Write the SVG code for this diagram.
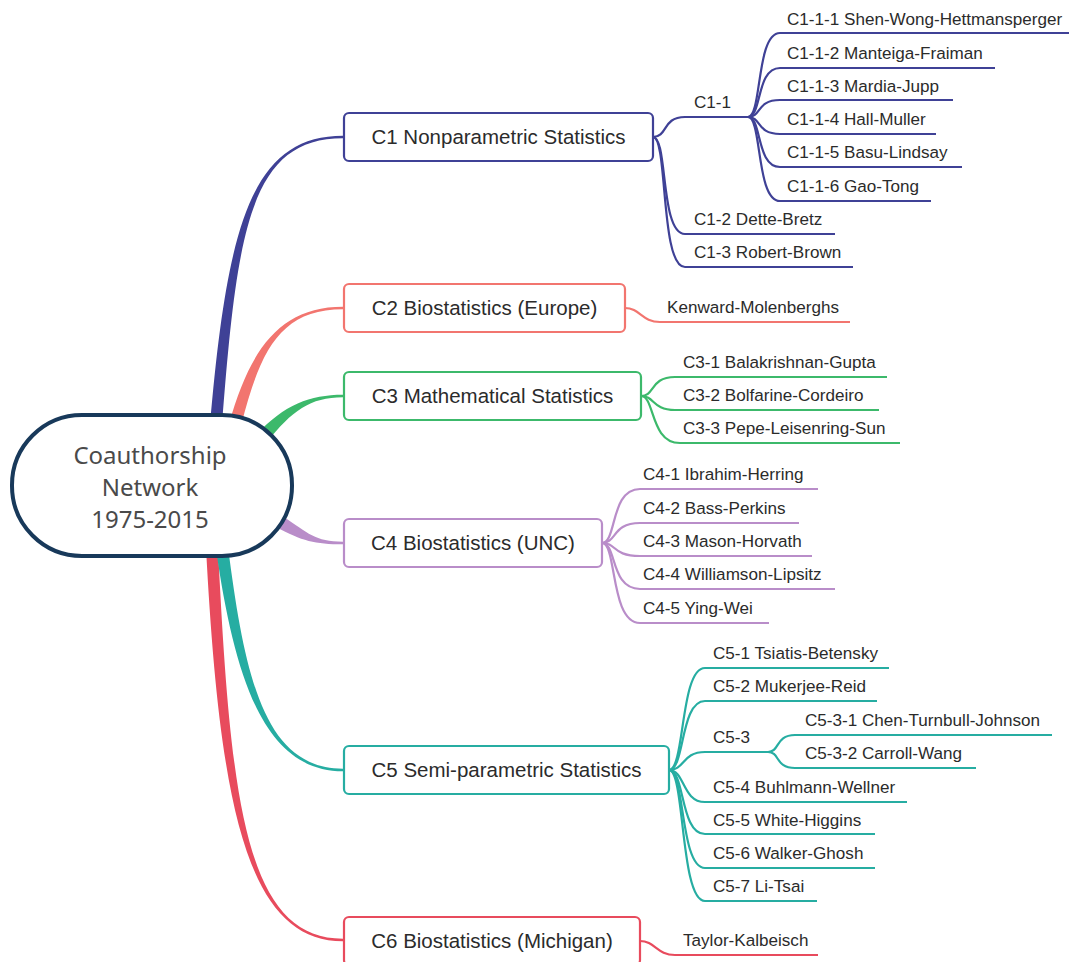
<svg xmlns="http://www.w3.org/2000/svg" width="1069" height="962" viewBox="0 0 1069 962">
<style>
.t{font-family:"Liberation Sans",Arial,sans-serif;fill:#2b2b2b}
.main{font-size:20.5px;text-anchor:middle}
.leaf{font-size:17.1px}
.box{fill:#fff;stroke-width:2.2}
.ln{fill:none;stroke-width:2.2}
.c1{stroke:#3f4196}.c2{stroke:#f2756f}.c3{stroke:#3cb96b}.c4{stroke:#b98dc9}.c5{stroke:#26ada2}.c6{stroke:#e84b5d}
</style>
<rect width="1069" height="962" fill="#fff"/>
<g id="connectors">
  <path fill="#3f4196" d="M 222 425 C 237 230, 250 138.3, 343 138.3 L 343 135.7 C 250 135.7, 227 229.6, 210 425 Z"/>
  <path fill="#f2756f" d="M 241 426 C 260 351, 280 309.3, 343 309.3 L 343 306.7 C 280 306.7, 250 349, 229 424 Z"/>
  <path fill="#3cb96b" d="M 267 442 C 292 411, 310 397.3, 343 397.3 L 343 394.7 C 310 394.7, 284 405, 257 434 Z"/>
  <path fill="#b98dc9" d="M 276 527 C 302 541, 315 544.3, 343 544.3 L 343 541.7 C 315 541.7, 308 533, 284 517 Z"/>
  <path fill="#e84b5d" d="M 218 548 C 230.5 800, 245 938.7, 343 938.7 L 343 941.3 C 245 941.3, 219.5 800, 206 548 Z"/>
  <path fill="#26ada2" d="M 228 547 C 245 679, 265 768.7, 343 768.7 L 343 771.3 C 265 771.3, 235 681, 216 549 Z"/>
  <!-- C1 -->
  <path class="ln c1" d="M 653 137 C 668 137, 662 117, 685 117 H 748"/>
  <path class="ln c1" d="M 653 137 C 668 137, 660 234, 685 234 H 835"/>
  <path class="ln c1" d="M 653 137 C 668 137, 660 267, 685 267 H 853"/>
  <path class="ln c1" d="M 748 117 C 762 117, 756 33, 780 33 H 1069"/>
  <path class="ln c1" d="M 748 117 C 762 117, 756 68, 780 68 H 995"/>
  <path class="ln c1" d="M 748 117 C 762 117, 756 100, 780 100 H 953"/>
  <path class="ln c1" d="M 748 117 C 762 117, 756 134, 780 134 H 936"/>
  <path class="ln c1" d="M 748 117 C 762 117, 756 167, 780 167 H 962"/>
  <path class="ln c1" d="M 748 117 C 762 117, 756 201, 780 201 H 931"/>
  <!-- C2 -->
  <path class="ln c2" d="M 625 308 C 640 308, 642 322, 660 322 H 850"/>
  <!-- C3 -->
  <path class="ln c3" d="M 641 396 C 655 396, 650 377, 675 377 H 887"/>
  <path class="ln c3" d="M 641 396 C 655 396, 652 410, 675 410 H 879"/>
  <path class="ln c3" d="M 641 396 C 655 396, 650 443, 680 443 H 900"/>
  <!-- C4 -->
  <path class="ln c4" d="M 602 543 C 617 543, 610 489, 640 489 H 818"/>
  <path class="ln c4" d="M 602 543 C 617 543, 612 523, 640 523 H 799"/>
  <path class="ln c4" d="M 602 543 C 617 543, 612 556, 640 556 H 812"/>
  <path class="ln c4" d="M 602 543 C 617 543, 610 589, 640 589 H 835"/>
  <path class="ln c4" d="M 602 543 C 617 543, 610 623, 640 623 H 769"/>
  <!-- C5 -->
  <path class="ln c5" d="M 669 770 C 685 770, 680 668, 705 668 H 889"/>
  <path class="ln c5" d="M 669 770 C 685 770, 680 701, 705 701 H 877"/>
  <path class="ln c5" d="M 669 770 C 685 770, 682 752, 705 752 H 768"/>
  <path class="ln c5" d="M 768 752 C 780 752, 775 735, 795 735 H 1052"/>
  <path class="ln c5" d="M 768 752 C 780 752, 775 768, 795 768 H 976"/>
  <path class="ln c5" d="M 669 770 C 685 770, 682 802, 705 802 H 907"/>
  <path class="ln c5" d="M 669 770 C 685 770, 680 834, 705 834 H 875"/>
  <path class="ln c5" d="M 669 770 C 685 770, 680 868, 705 868 H 875"/>
  <path class="ln c5" d="M 669 770 C 685 770, 680 901, 705 901 H 817"/>
  <!-- C6 -->
  <path class="ln c6" d="M 640 941 C 655 941, 657 955, 675 955 H 818"/>
</g>
<g id="root">
  <rect x="12" y="415" width="280" height="141" rx="70" fill="#fff" stroke="#18395a" stroke-width="4"/>
  <text font-family="'Noto Sans','Open Sans',sans-serif" font-size="24" fill="#4a4a4a" text-anchor="middle"><tspan x="150" y="464">Coauthorship</tspan><tspan x="150" y="496">Network</tspan><tspan x="150" y="528">1975-2015</tspan></text>
</g>
<g id="c1">
  <rect class="box c1" x="344" y="113" width="309" height="48" rx="5"/>
  <text class="t main" x="498.5" y="144">C1 Nonparametric Statistics</text>
</g>
<g id="c1-1"><text class="t leaf" x="694" y="108">C1-1</text></g>
<g id="c1-1-1"><text class="t leaf" x="787" y="25">C1-1-1 Shen-Wong-Hettmansperger</text></g>
<g id="c1-1-2"><text class="t leaf" x="787" y="59">C1-1-2 Manteiga-Fraiman</text></g>
<g id="c1-1-3"><text class="t leaf" x="787" y="92">C1-1-3 Mardia-Jupp</text></g>
<g id="c1-1-4"><text class="t leaf" x="787" y="125">C1-1-4 Hall-Muller</text></g>
<g id="c1-1-5"><text class="t leaf" x="787" y="158">C1-1-5 Basu-Lindsay</text></g>
<g id="c1-1-6"><text class="t leaf" x="787" y="192">C1-1-6 Gao-Tong</text></g>
<g id="c1-2"><text class="t leaf" x="694" y="225">C1-2 Dette-Bretz</text></g>
<g id="c1-3"><text class="t leaf" x="694" y="258">C1-3 Robert-Brown</text></g>
<g id="c2">
  <rect class="box c2" x="344" y="284" width="281" height="48" rx="5"/>
  <text class="t main" x="484.5" y="315">C2 Biostatistics (Europe)</text>
</g>
<g id="c2-1"><text class="t leaf" x="667" y="313">Kenward-Molenberghs</text></g>
<g id="c3">
  <rect class="box c3" x="344" y="372" width="297" height="48" rx="5"/>
  <text class="t main" x="492.5" y="403">C3 Mathematical Statistics</text>
</g>
<g id="c3-1"><text class="t leaf" x="683" y="368">C3-1 Balakrishnan-Gupta</text></g>
<g id="c3-2"><text class="t leaf" x="683" y="401">C3-2 Bolfarine-Cordeiro</text></g>
<g id="c3-3"><text class="t leaf" x="683" y="434">C3-3 Pepe-Leisenring-Sun</text></g>
<g id="c4">
  <rect class="box c4" x="344" y="519" width="258" height="48" rx="5"/>
  <text class="t main" x="473" y="550">C4 Biostatistics (UNC)</text>
</g>
<g id="c4-1"><text class="t leaf" x="643" y="480">C4-1 Ibrahim-Herring</text></g>
<g id="c4-2"><text class="t leaf" x="643" y="514">C4-2 Bass-Perkins</text></g>
<g id="c4-3"><text class="t leaf" x="643" y="547">C4-3 Mason-Horvath</text></g>
<g id="c4-4"><text class="t leaf" x="643" y="580">C4-4 Williamson-Lipsitz</text></g>
<g id="c4-5"><text class="t leaf" x="643" y="614">C4-5 Ying-Wei</text></g>
<g id="c5">
  <rect class="box c5" x="344" y="746" width="325" height="48" rx="5"/>
  <text class="t main" x="506.5" y="777">C5 Semi-parametric Statistics</text>
</g>
<g id="c5-1"><text class="t leaf" x="713" y="659">C5-1 Tsiatis-Betensky</text></g>
<g id="c5-2"><text class="t leaf" x="713" y="692">C5-2 Mukerjee-Reid</text></g>
<g id="c5-3"><text class="t leaf" x="713" y="743">C5-3</text></g>
<g id="c5-3-1"><text class="t leaf" x="805" y="726">C5-3-1 Chen-Turnbull-Johnson</text></g>
<g id="c5-3-2"><text class="t leaf" x="805" y="759">C5-3-2 Carroll-Wang</text></g>
<g id="c5-4"><text class="t leaf" x="713" y="793">C5-4 Buhlmann-Wellner</text></g>
<g id="c5-5"><text class="t leaf" x="713" y="826">C5-5 White-Higgins</text></g>
<g id="c5-6"><text class="t leaf" x="713" y="859">C5-6 Walker-Ghosh</text></g>
<g id="c5-7"><text class="t leaf" x="713" y="892">C5-7 Li-Tsai</text></g>
<g id="c6">
  <rect class="box c6" x="344" y="917" width="296" height="48" rx="5"/>
  <text class="t main" x="492" y="948">C6 Biostatistics (Michigan)</text>
</g>
<g id="c6-1"><text class="t leaf" x="683" y="946">Taylor-Kalbeisch</text></g>
</svg>
